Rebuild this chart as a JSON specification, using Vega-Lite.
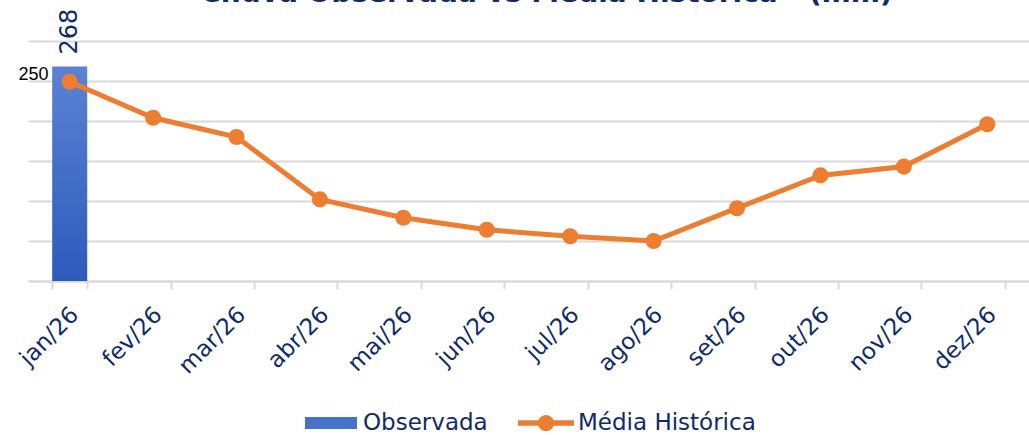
{
  "$schema": "https://vega.github.io/schema/vega-lite/v6.json",
  "width": 1001,
  "height": 240,
  "autosize": {"type": "none"},
  "padding": {"left": 28, "top": 41, "right": 0, "bottom": 154},
  "background": "white",
  "title": {
    "text": "Chuva Observada vs Média Histórica - (mm)",
    "font": "DejaVu Sans",
    "fontSize": 28,
    "fontWeight": "bold",
    "color": "#0f2b69",
    "anchor": "middle",
    "frame": "group",
    "baseline": "alphabetic",
    "offset": 0,
    "dy": 21,
    "dx": 18
  },
  "config": {
    "view": {"stroke": null},
    "font": "DejaVu Sans",
    "axisY": {
      "title": null,
      "values": [0, 50, 100, 150, 200, 250, 300],
      "labelExpr": "datum.value == 250 ? '250' : ''",
      "labelFont": "Liberation Sans",
      "labelFontSize": 18,
      "labelColor": "#000000",
      "labelPadding": -20,
      "labelOffset": -2,
      "labelBaseline": "alphabetic",
      "labelOverlap": false,
      "domain": false,
      "ticks": false,
      "gridColor": "#d9d9d9",
      "gridWidth": 2
    }
  },
  "data": {
    "values": [
      {"mes": "jan/26", "obs": 268, "media": 249},
      {"mes": "fev/26", "obs": null, "media": 204},
      {"mes": "mar/26", "obs": null, "media": 180},
      {"mes": "abr/26", "obs": null, "media": 102},
      {"mes": "mai/26", "obs": null, "media": 79},
      {"mes": "jun/26", "obs": null, "media": 64},
      {"mes": "jul/26", "obs": null, "media": 56},
      {"mes": "ago/26", "obs": null, "media": 50},
      {"mes": "set/26", "obs": null, "media": 91},
      {"mes": "out/26", "obs": null, "media": 132},
      {"mes": "nov/26", "obs": null, "media": 143},
      {"mes": "dez/26", "obs": null, "media": 196}
    ]
  },
  "encoding": {
    "x": {
      "field": "mes",
      "type": "ordinal",
      "sort": null,
      "scale": {"paddingInner": 0.58, "paddingOuter": 0.29},
      "axis": {
        "title": null,
        "labelAngle": -45,
        "labelFontSize": 23,
        "labelColor": "#0f2b69",
        "labelFont": "DejaVu Sans",
        "labelPadding": 14,
        "labelOffset": -3,
        "domainColor": "#d9d9d9",
        "domainWidth": 2,
        "tickColor": "#d9d9d9",
        "tickWidth": 2,
        "tickSize": 8,
        "tickBand": "extent",
        "grid": false
      }
    }
  },
  "layer": [
    {
      "transform": [{"filter": "datum.obs != null"}],
      "mark": {
        "type": "bar",
        "fill": {
          "gradient": "linear",
          "x1": 0, "y1": 0, "x2": 0, "y2": 1,
          "stops": [
            {"offset": 0, "color": "#5b82d3"},
            {"offset": 1, "color": "#2d5bbb"}
          ]
        }
      },
      "encoding": {
        "y": {
          "field": "obs",
          "type": "quantitative",
          "title": null,
          "scale": {"domain": [0, 300], "nice": false}
        }
      }
    },
    {
      "transform": [{"filter": "datum.obs != null"}],
      "mark": {
        "type": "text",
        "angle": 270,
        "align": "left",
        "baseline": "middle",
        "dx": 12,
        "fontSize": 24,
        "font": "DejaVu Sans",
        "color": "#0f2b69"
      },
      "encoding": {
        "y": {"field": "obs", "type": "quantitative", "title": null},
        "text": {"field": "obs", "type": "quantitative"}
      }
    },
    {
      "mark": {"type": "line", "strokeWidth": 5, "color": "#ed7d31"},
      "encoding": {
        "y": {"field": "media", "type": "quantitative", "title": null},
        "color": {
          "datum": "Média Histórica",
          "type": "nominal",
          "scale": {
            "domain": ["Observada", "Média Histórica"],
            "range": ["#4672c8", "#ed7d31"]
          },
          "legend": {
            "title": null,
            "orient": "none",
            "direction": "horizontal",
            "legendX": 275,
            "legendY": 354,
            "labelFontSize": 23,
            "labelFont": "DejaVu Sans",
            "labelColor": "#0f2b69",
            "labelLimit": 400,
            "symbolSize": 3136,
            "symbolStrokeWidth": 0,
            "labelOffset": 4,
            "columnPadding": 30,
            "encode": {
              "symbols": {
                "update": {
                  "shape": {"signal": "datum.value == 'Observada' ? 'M-0.93,-0.21H0.93V0.21H-0.93Z' : 'M-1,-0.1H-0.25V0.1H-1Z M0.25,-0.1H1V0.1H0.25Z M-0.29,0 A0.29,0.29 0 1,1 0.29,0 A0.29,0.29 0 1,1 -0.29,0Z'"},
                  "fill": {"signal": "datum.value == 'Observada' ? '#4672c8' : '#ed7d31'"},
                  "stroke": {"value": "transparent"},
                  "opacity": {"value": 1}
                }
              }
            }
          }
        }
      }
    },
    {
      "mark": {"type": "point", "filled": true, "size": 260, "opacity": 1, "color": "#ed7d31"},
      "encoding": {
        "y": {"field": "media", "type": "quantitative", "title": null}
      }
    }
  ]
}
